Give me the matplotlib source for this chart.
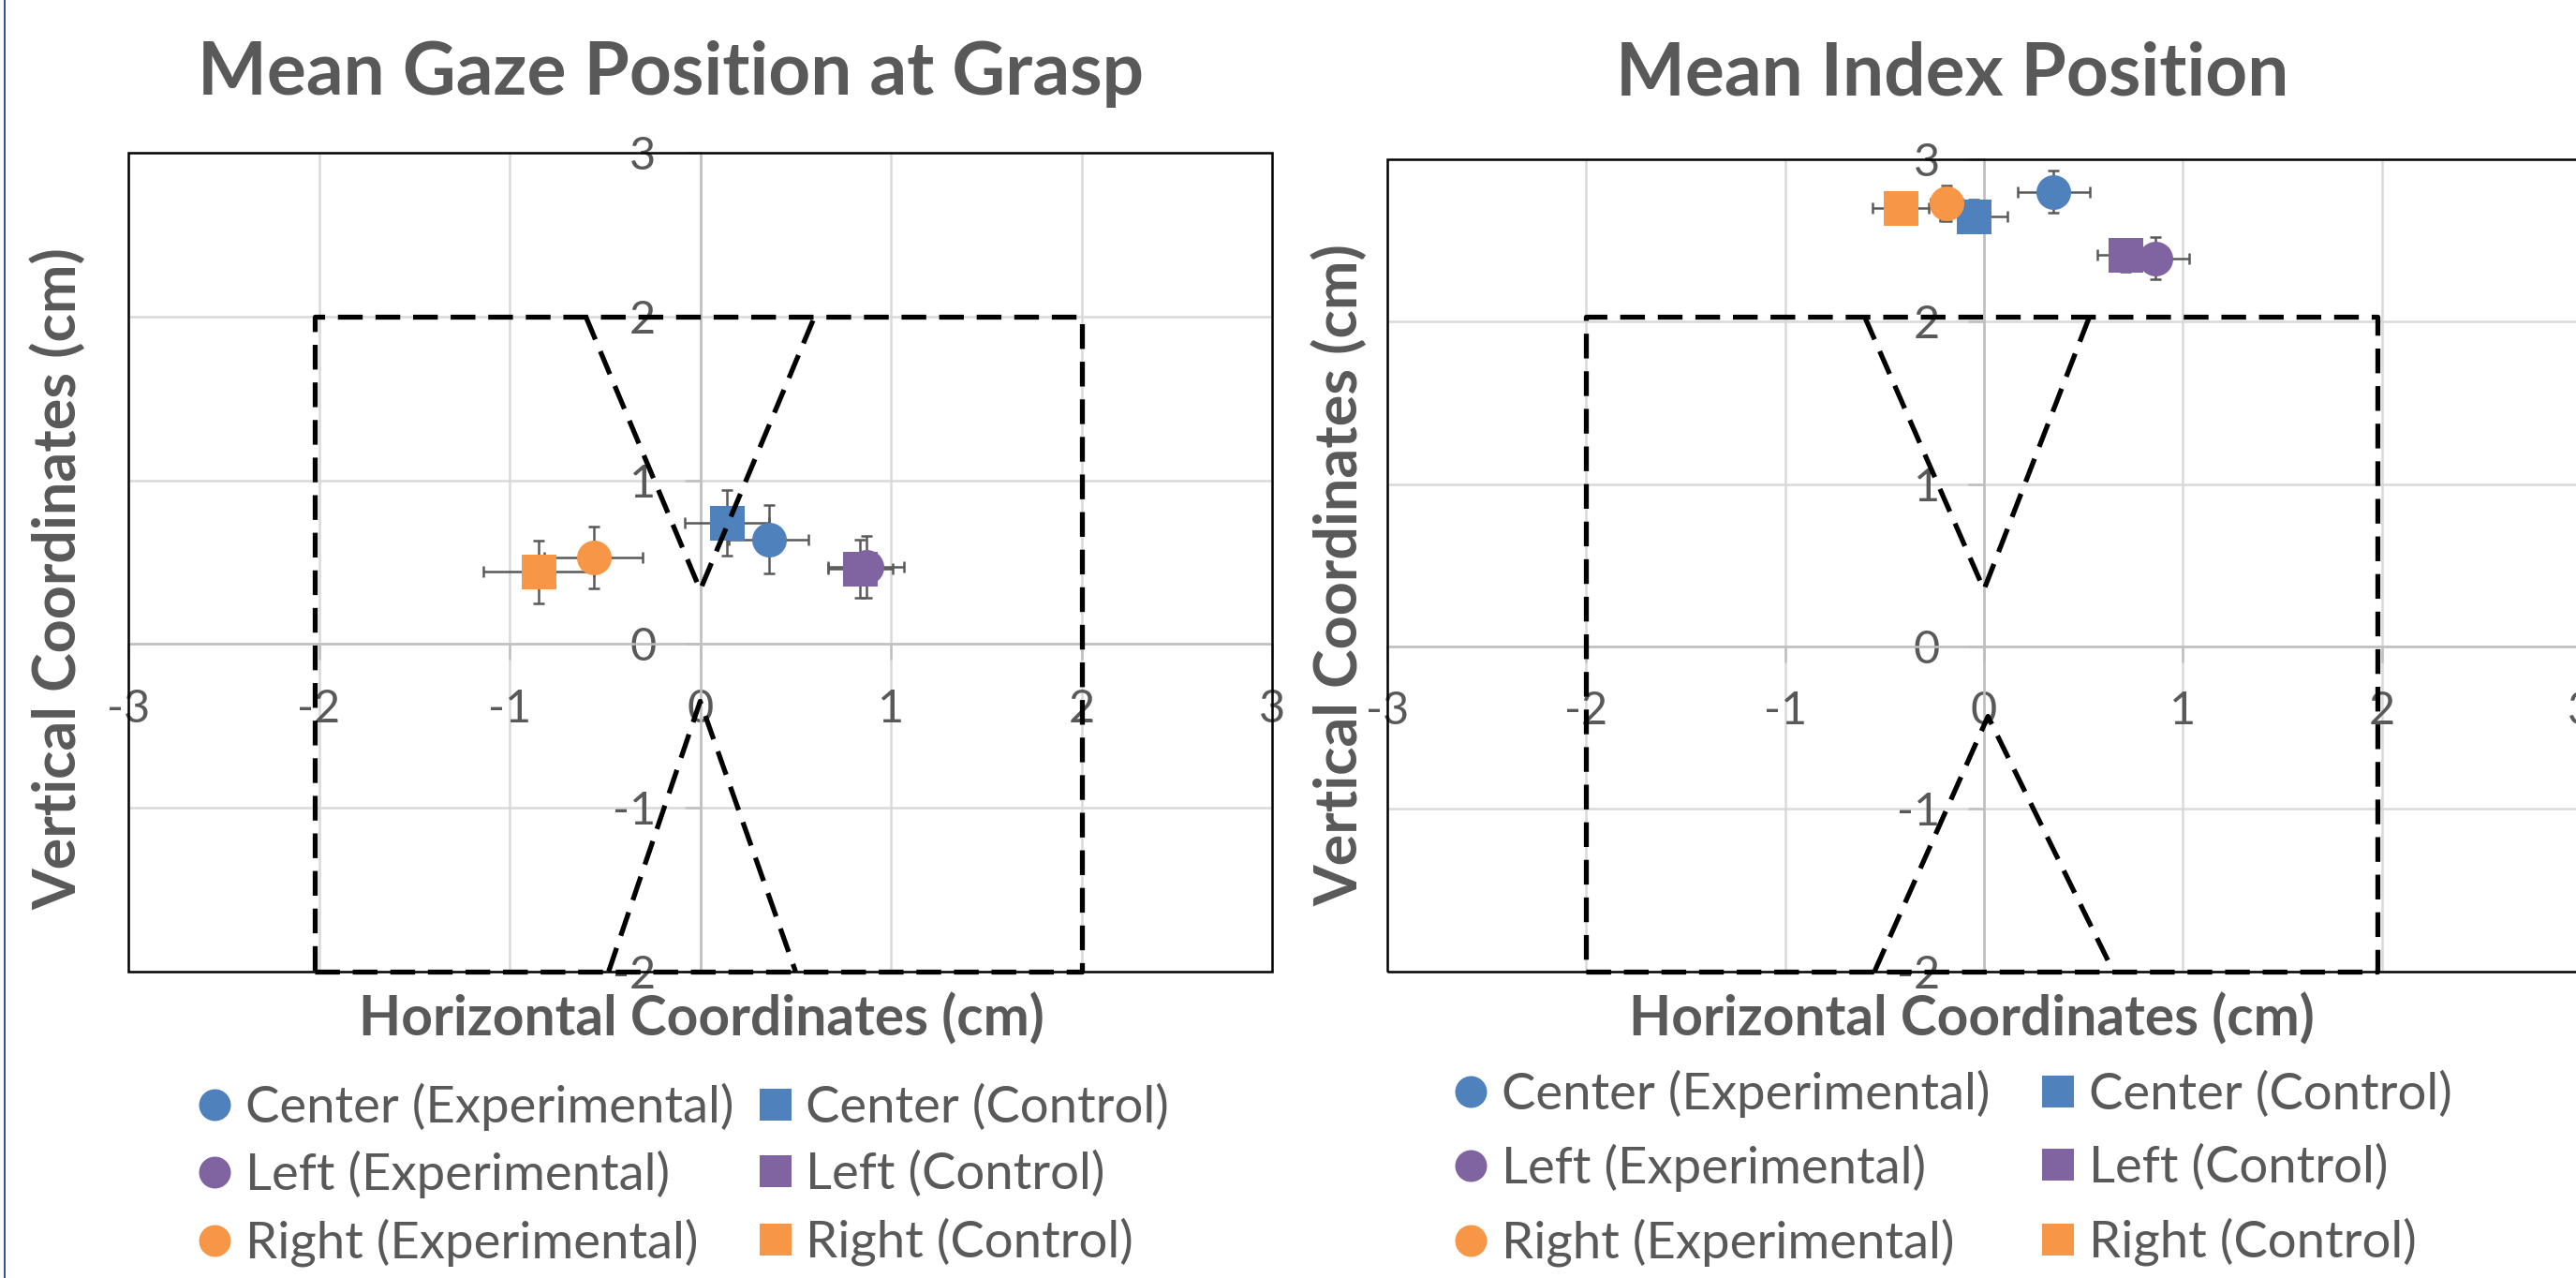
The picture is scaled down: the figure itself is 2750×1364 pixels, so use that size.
import matplotlib
matplotlib.use('Agg')
import matplotlib.pyplot as plt
from matplotlib.lines import Line2D
from matplotlib.patches import Rectangle

W, H, DPI = 2750, 1364, 100
FONT = 'Lato'
TXT = '#595959'

# ---------------- data ----------------
conditions = ['Center', 'Left', 'Right']
cond_colors = ['#4F81BD', '#8064A2', '#F79646']

# Mean gaze position at grasp (cm)
gaze_exp_x = [0.36, 0.87, -0.56]
gaze_exp_y = [0.64, 0.47, 0.53]
gaze_exp_xerr = [0.21, 0.20, 0.26]
gaze_exp_yerr = [0.21, 0.19, 0.19]
gaze_ctl_x = [0.14, 0.84, -0.85]
gaze_ctl_y = [0.74, 0.46, 0.44]
gaze_ctl_xerr = [0.22, 0.17, 0.29]
gaze_ctl_yerr = [0.20, 0.18, 0.19]

# Mean index position (cm)
index_exp_x = [0.35, 0.86, -0.19]
index_exp_y = [2.80, 2.39, 2.73]
index_exp_xerr = [0.18, 0.17, 0.08]
index_exp_yerr = [0.13, 0.13, 0.11]
index_ctl_x = [-0.05, 0.71, -0.42]
index_ctl_y = [2.65, 2.41, 2.70]
index_ctl_xerr = [0.17, 0.14, 0.14]
index_ctl_yerr = [0.10, 0.10, 0.10]

# object outline shapes (dashed)
gaze_rect_x = [-2.02, 2.0, 2.0, -2.02, -2.02]
gaze_rect_y = [-2.0, -2.0, 2.0, 2.0, -2.0]
gaze_upper_x = [-0.6, 0.0, 0.6]
gaze_upper_y = [2.0, 0.33, 2.0]
gaze_lower_x = [-0.48, 0.0, 0.5]
gaze_lower_y = [-2.0, -0.35, -2.0]

index_rect_x = [-2.0, 1.98, 1.98, -2.0, -2.0]
index_rect_y = [-2.0, -2.0, 2.03, 2.03, -2.0]
index_upper_x = [-0.6, 0.0, 0.53]
index_upper_y = [2.03, 0.35, 2.03]
index_lower_x = [-0.55, 0.02, 0.65]
index_lower_y = [-2.0, -0.43, -2.0]

xticks = [-3, -2, -1, 0, 1, 2, 3]
yticks = [-2, -1, 0, 1, 2, 3]

title_left = 'Mean Gaze Position at Grasp'
title_right = 'Mean Index Position'
xlabel = 'Horizontal Coordinates (cm)'
ylabel = 'Vertical Coordinates (cm)'

# ---------------- figure ----------------
plt.rcParams['font.family'] = [FONT, 'DejaVu Sans']
fig = plt.figure(figsize=(W / DPI, H / DPI), dpi=DPI)
fig.patch.set_facecolor('white')
renderer = fig.canvas.get_renderer()


def fit(s, target, weight='normal', base=40.0):
    t = fig.text(0, 0, s, fontsize=base, fontweight=weight)
    w = t.get_window_extent(renderer).width
    t.remove()
    return base * target / w


def px2fig(x, y):
    return x / W, 1 - y / H


ax1 = fig.add_axes([137 / W, 1 - 1036.7 / H, 1221 / W, 873.4 / H])
ax2 = fig.add_axes([1481 / W, 1 - 1036.7 / H, 1274 / W, 866.7 / H])

MS = 37 * 72 / DPI


def setup(ax):
    ax.set_xlim(-3, 3)
    ax.set_ylim(-2, 3)
    for s in ['top', 'right']:
        ax.spines[s].set_visible(False)
    for s in ['left', 'bottom']:
        ax.spines[s].set_position(('data', 0))
        ax.spines[s].set_color('#bfbfbf')
        ax.spines[s].set_linewidth(1.8)
        ax.spines[s].set_zorder(1.5)
    ax.set_xticks(xticks)
    ax.set_yticks(yticks)
    ax.set_xticklabels([str(v) for v in xticks])
    ax.set_yticklabels([str(v) for v in yticks])
    ax.tick_params(direction='out', length=12, width=1.8, color='#bfbfbf',
                   labelsize=35, labelcolor=TXT, pad=22)
    ax.grid(True, color='#d9d9d9', lw=1.8, zorder=0)
    ax.set_axisbelow(True)
    ax.add_patch(Rectangle((0, 0), 1, 1, transform=ax.transAxes, fill=False,
                           ec='black', lw=1.8, zorder=10, clip_on=False))


def draw(ax, ex, ey, exe, eye, cx, cy, cxe, cye, shapes):
    # error bars below markers
    for i in range(3):
        ax.errorbar(ex[i], ey[i], xerr=exe[i], yerr=eye[i], fmt='none',
                    ecolor='#595959', elinewidth=1.8, capsize=4.5,
                    capthick=1.8, zorder=3)
        ax.errorbar(cx[i], cy[i], xerr=cxe[i], yerr=cye[i], fmt='none',
                    ecolor='#595959', elinewidth=1.8, capsize=4.5,
                    capthick=1.8, zorder=3)
    for i in range(3):
        ax.plot(ex[i], ey[i], 'o', ms=MS, color=cond_colors[i], mew=0,
                zorder=4)
        ax.plot(cx[i], cy[i], 's', ms=MS, color=cond_colors[i], mew=0,
                zorder=4)
    for xs, ys in shapes:
        ax.plot(xs, ys, color='black', lw=3.8, ls=(0, (5, 2.6)), zorder=6,
                clip_on=False, solid_capstyle='butt', dash_capstyle='butt')


setup(ax1)
setup(ax2)
draw(ax1, gaze_exp_x, gaze_exp_y, gaze_exp_xerr, gaze_exp_yerr,
     gaze_ctl_x, gaze_ctl_y, gaze_ctl_xerr, gaze_ctl_yerr,
     [(gaze_rect_x, gaze_rect_y), (gaze_upper_x, gaze_upper_y),
      (gaze_lower_x, gaze_lower_y)])
draw(ax2, index_exp_x, index_exp_y, index_exp_xerr, index_exp_yerr,
     index_ctl_x, index_ctl_y, index_ctl_xerr, index_ctl_yerr,
     [(index_rect_x, index_rect_y), (index_upper_x, index_upper_y),
      (index_lower_x, index_lower_y)])

# ---------------- texts ----------------
title_fs = fit(title_left, 1010, 'bold')
fig.text(*px2fig(716, 101), title_left, fontsize=title_fs, fontweight='bold',
         color=TXT, ha='center', va='baseline')
fig.text(*px2fig(2084, 101), title_right, fontsize=title_fs, fontweight='bold',
         color=TXT, ha='center', va='baseline')

xl_fs = fit(xlabel, 732, 'bold')
fig.text(*px2fig(749, 1106), xlabel, fontsize=xl_fs, fontweight='bold',
         color=TXT, ha='center', va='baseline')
fig.text(*px2fig(2105, 1106), xlabel, fontsize=xl_fs, fontweight='bold',
         color=TXT, ha='center', va='baseline')

yl_fs = fit(ylabel, 706, 'bold')
fig.text(*px2fig(62, 618), ylabel, fontsize=yl_fs, fontweight='bold',
         color=TXT, ha='center', va='center', rotation=90)
fig.text(*px2fig(1430, 614), ylabel, fontsize=yl_fs, fontweight='bold',
         color=TXT, ha='center', va='center', rotation=90)

# ---------------- legends ----------------
leg_fs = fit('Center (Experimental)', 521)
fs_px = leg_fs * DPI / 72
t = fig.text(0, 0, 'Center (Experimental)', fontsize=leg_fs)
text_h = t.get_window_extent(renderer).height
t.remove()

labels_exp = [c + ' (Experimental)' for c in conditions]
labels_ctl = [c + ' (Control)' for c in conditions]
LMS = 34 * 72 / DPI
h_exp = [Line2D([], [], ls='none', marker='o', ms=LMS, mew=0, color=c)
         for c in cond_colors]
h_ctl = [Line2D([], [], ls='none', marker='s', ms=LMS, mew=0, color=c)
         for c in cond_colors]
handles = h_exp + h_ctl
labels = labels_exp + labels_ctl


def add_legend(ax, left_px, cy_px, col2_left_px, pitch_px):
    colspace = col2_left_px - (left_px + 34 + 16 + 521)
    leg = ax.legend(handles, labels, ncol=2, loc='center left',
                    bbox_to_anchor=px2fig(left_px, cy_px),
                    bbox_transform=fig.transFigure, frameon=False,
                    fontsize=leg_fs, borderpad=0, borderaxespad=0,
                    handlelength=34 / fs_px, handletextpad=16 / fs_px,
                    columnspacing=colspace / fs_px,
                    labelspacing=(pitch_px - text_h) / fs_px, numpoints=1)
    for txt in leg.get_texts():
        txt.set_color(TXT)
    return leg


add_legend(ax1, 211.5, 1254, 810, 72.3)
add_legend(ax2, 1552.6, 1247, 2179.5, 79.5)

# page border line on the left
fig.add_artist(Line2D([4.5 / W, 4.5 / W], [0, 1], color='#2F528F', lw=1.4,
                      transform=fig.transFigure))

fig.savefig('out.png', dpi=DPI)
